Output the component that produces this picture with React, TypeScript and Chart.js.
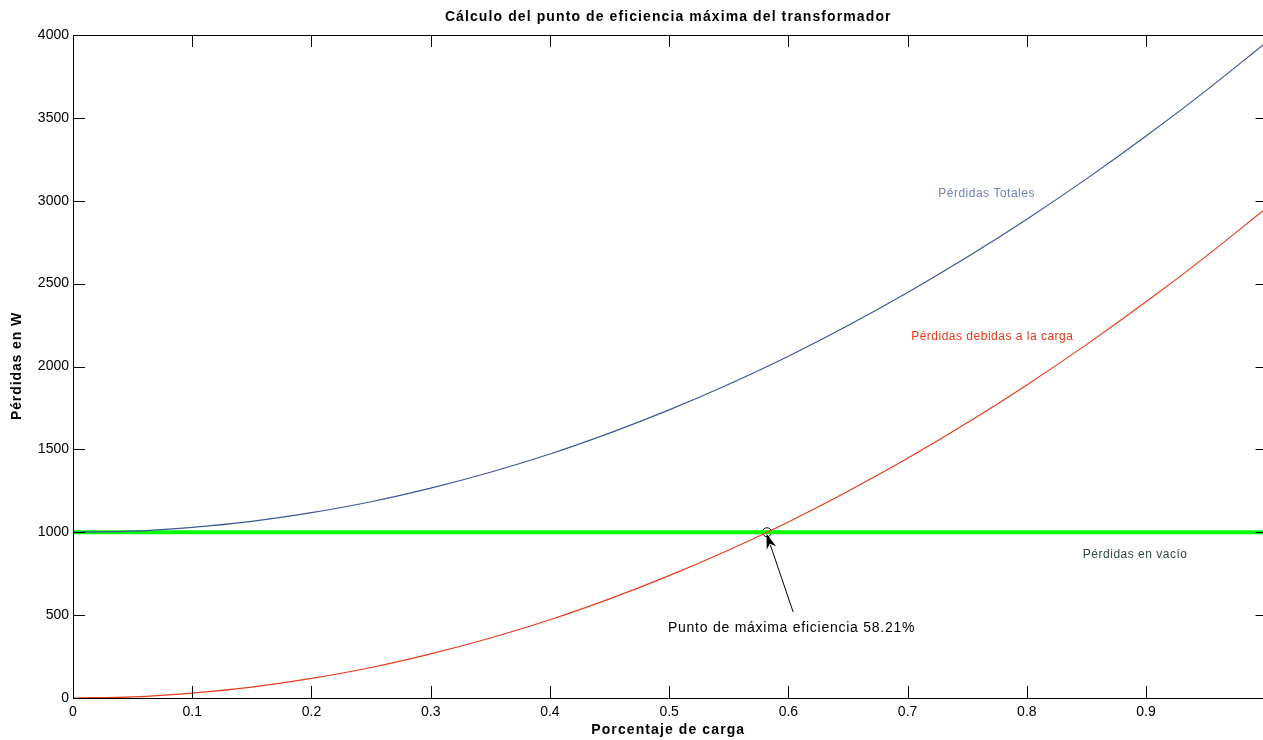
import React, { useEffect, useRef } from "react";
import { Chart, registerables } from "chart.js";

Chart.register(...registerables);

const chartTitle = "Cálculo del punto de eficiencia máxima del transformador";
const xAxisTitle = "Porcentaje de carga";
const yAxisTitle = "Pérdidas en W";

const loadFraction = [0, 0.05, 0.1, 0.15, 0.2, 0.25, 0.3, 0.35, 0.4, 0.45, 0.5, 0.55, 0.6, 0.65, 0.7, 0.75, 0.8, 0.85, 0.9, 0.95, 1.0];
const loadLosses = [0, 7, 30, 66, 118, 184, 266, 362, 472, 598, 738, 893, 1062, 1247, 1446, 1660, 1889, 2132, 2390, 2663, 2951];
const totalLosses = [1000, 1007, 1030, 1066, 1118, 1184, 1266, 1362, 1472, 1598, 1738, 1893, 2062, 2247, 2446, 2660, 2889, 3132, 3390, 3663, 3951];
const noLoadX = [0, 1.0];
const noLoadLosses = [1000, 1000];

const optimumX = 0.5821;
const optimumY = 1000;

const xTicks = [0, 0.1, 0.2, 0.3, 0.4, 0.5, 0.6, 0.7, 0.8, 0.9];
const yTicks = [0, 500, 1000, 1500, 2000, 2500, 3000, 3500, 4000];

const labels = [
  { text: "Pérdidas Totales", x: 0.7257, y: 3041, color: "#6d84b6" },
  { text: "Pérdidas debidas a la carga", x: 0.703, y: 2178, color: "#e4391a" },
  { text: "Pérdidas en vacío", x: 0.847, y: 863, color: "#2e4a3c" },
];
const annotationText = "Punto de máxima eficiencia 58.21%";
const annotationPos = { x: 0.499, y: 422 };
const arrowTail = { x: 0.604, y: 519 };

const FONT = "'Liberation Sans', Arial, sans-serif";

export default function App() {
  const ref = useRef<HTMLCanvasElement | null>(null);

  useEffect(() => {
    document.body.style.margin = "0";
    const canvas = ref.current;
    if (!canvas) return;

    const decor = {
      id: "decor",
      afterDatasetsDraw(chart: any) {
        const { ctx, chartArea, scales } = chart;
        const xs = scales.x;
        const ys = scales.y;
        const { left, right, top, bottom } = chartArea;
        ctx.save();
        ctx.strokeStyle = "#000";
        ctx.lineWidth = 1;
        ctx.beginPath();
        ctx.moveTo(left + 0.5, top + 0.5);
        ctx.lineTo(left + 0.5, bottom + 0.5);
        ctx.lineTo(right, bottom + 0.5);
        ctx.moveTo(left + 0.5, top + 0.5);
        ctx.lineTo(right, top + 0.5);
        ctx.stroke();
        ctx.beginPath();
        xTicks.forEach((v) => {
          const px = Math.round(xs.getPixelForValue(v)) + 0.5;
          ctx.moveTo(px, bottom);
          ctx.lineTo(px, bottom - 12);
          ctx.moveTo(px, top);
          ctx.lineTo(px, top + 12);
        });
        yTicks.forEach((v) => {
          const py = Math.round(ys.getPixelForValue(v)) + 0.5;
          ctx.moveTo(left, py);
          ctx.lineTo(left + 12, py);
          ctx.moveTo(right, py);
          ctx.lineTo(right - 8, py);
        });
        ctx.stroke();

        ctx.textBaseline = "middle";
        ctx.textAlign = "left";
        ctx.font = `12px ${FONT}`;
        (ctx as any).letterSpacing = "0.5px";
        labels.forEach((l) => {
          ctx.fillStyle = l.color;
          ctx.fillText(l.text, xs.getPixelForValue(l.x), ys.getPixelForValue(l.y));
        });

        ctx.fillStyle = "#000";
        ctx.font = `14px ${FONT}`;
        (ctx as any).letterSpacing = "0.75px";
        ctx.fillText(annotationText, xs.getPixelForValue(annotationPos.x), ys.getPixelForValue(annotationPos.y));

        const tx = xs.getPixelForValue(arrowTail.x);
        const ty = ys.getPixelForValue(arrowTail.y);
        const hx = xs.getPixelForValue(optimumX) - 0.5;
        const hy = ys.getPixelForValue(optimumY) + 1.5;
        const ang = Math.atan2(hy - ty, hx - tx);
        const headLen = 15;
        const headW = 5;
        ctx.strokeStyle = "#000";
        ctx.lineWidth = 1;
        ctx.beginPath();
        ctx.moveTo(tx, ty);
        ctx.lineTo(hx - Math.cos(ang) * headLen * 0.8, hy - Math.sin(ang) * headLen * 0.8);
        ctx.stroke();
        const bx = hx - Math.cos(ang) * headLen;
        const by = hy - Math.sin(ang) * headLen;
        const nx = -Math.sin(ang);
        const ny = Math.cos(ang);
        ctx.fillStyle = "#000";
        ctx.beginPath();
        ctx.moveTo(hx, hy);
        ctx.lineTo(bx + nx * headW, by + ny * headW);
        ctx.lineTo(hx - Math.cos(ang) * headLen * 0.7, hy - Math.sin(ang) * headLen * 0.7);
        ctx.lineTo(bx - nx * headW, by - ny * headW);
        ctx.closePath();
        ctx.fill();

        const cx = (left + right) / 2;
        ctx.font = `bold 14px ${FONT}`;
        ctx.textAlign = "center";
        ctx.fillStyle = "#000";
        (ctx as any).letterSpacing = "1.1px";
        ctx.fillText(chartTitle, cx, 17);
        ctx.fillText(xAxisTitle, cx, 730);
        ctx.translate(17, (top + bottom) / 2);
        ctx.rotate(-Math.PI / 2);
        (ctx as any).letterSpacing = "0.9px";
        ctx.fillText(yAxisTitle, 0.5, 0);
        ctx.restore();
      },
    };

    const chart = new Chart(canvas, {
      type: "line",
      data: {
        datasets: [
          {
            label: "Pérdidas debidas a la carga",
            data: loadFraction.map((x, i) => ({ x, y: loadLosses[i] })),
            borderColor: "#e63c1e",
            borderWidth: 1.2,
            pointRadius: 0,
            cubicInterpolationMode: "monotone",
            fill: false,
          },
          {
            label: "Pérdidas Totales",
            data: loadFraction.map((x, i) => ({ x, y: totalLosses[i] })),
            borderColor: "#3d5799",
            borderWidth: 1.2,
            pointRadius: 0,
            cubicInterpolationMode: "monotone",
            fill: false,
          },
          {
            label: "Pérdidas en vacío",
            data: noLoadX.map((x, i) => ({ x, y: noLoadLosses[i] })),
            borderColor: "#00ff00",
            borderWidth: 4,
            pointRadius: 0,
            fill: false,
          },
          {
            label: "Máxima eficiencia",
            data: [{ x: optimumX, y: optimumY }],
            borderColor: "#000",
            backgroundColor: "rgba(0,0,0,0)",
            borderWidth: 1,
            pointRadius: 4.5,
            showLine: false,
          },
        ],
      },
      options: {
        responsive: false,
        animation: false,
        devicePixelRatio: 1,
        layout: { padding: { top: 35, right: 0, left: 0, bottom: 0 } },
        plugins: {
          legend: { display: false },
          tooltip: { enabled: false },
          title: { display: false },
        },
        scales: {
          x: {
            type: "linear",
            min: 0,
            max: 0.9985,
            grid: { display: false, drawTicks: false },
            border: { display: false },
            afterFit: (s: any) => {
              s.height = 42;
              s.paddingLeft = 0;
              s.paddingRight = 0;
            },
            afterBuildTicks: (s: any) => {
              s.ticks = xTicks.map((v) => ({ value: v }));
            },
            ticks: {
              includeBounds: false,
              padding: 6,
              color: "#000",
              maxRotation: 0,
              font: { family: FONT, size: 14 },
              callback: (v: any) => String(v),
            },
          },
          y: {
            type: "linear",
            min: 0,
            max: 4000,
            grid: { display: false, drawTicks: false },
            border: { display: false },
            afterFit: (s: any) => {
              s.width = 73;
            },
            afterBuildTicks: (s: any) => {
              s.ticks = yTicks.map((v) => ({ value: v }));
            },
            ticks: {
              padding: 4,
              color: "#000",
              font: { family: FONT, size: 14 },
              callback: (v: any) => String(v),
            },
          },
        },
      },
      plugins: [decor],
    } as any);

    return () => chart.destroy();
  }, []);

  return (
    <div style={{ position: "relative", width: 1263, height: 740, overflow: "hidden", background: "#fff" }}>
      <canvas ref={ref} width={1269} height={740} style={{ display: "block" }} />
    </div>
  );
}
